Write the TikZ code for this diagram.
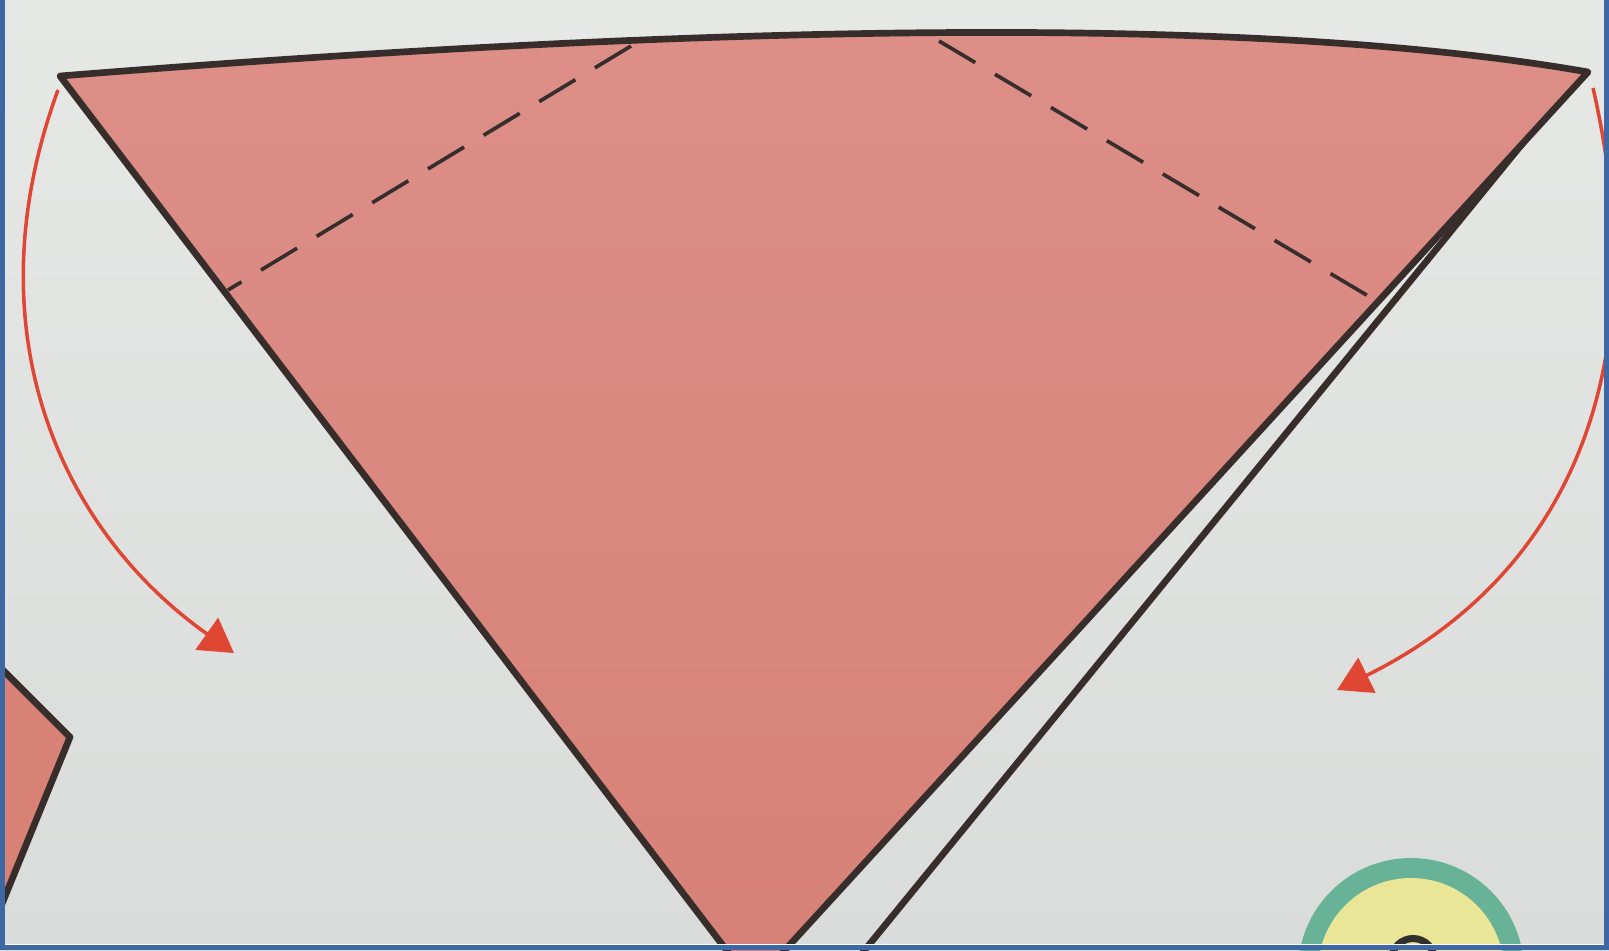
\documentclass[tikz,border=0pt]{standalone}
\usetikzlibrary{arrows.meta}
\definecolor{papertop}{RGB}{230,232,230}
\definecolor{paperbot}{RGB}{217,220,218}
\definecolor{pinktop}{RGB}{220,143,136}
\definecolor{pinkbot}{RGB}{215,129,119}
\definecolor{outline}{RGB}{55,46,44}
\definecolor{arrowred}{RGB}{224,70,52}
\definecolor{frameblue}{RGB}{62,104,164}
\definecolor{ringgreen}{RGB}{104,178,152}
\definecolor{ringyellow}{RGB}{234,230,152}
\definecolor{eyedark}{RGB}{50,48,46}
\begin{document}
\begin{tikzpicture}[x=0.01cm,y=-0.01cm,
  edge/.style={draw=outline,line width=1.9pt,line join=round,line cap=round},
  foldline/.style={draw=outline,line width=1.05pt,dash pattern=on 12pt off 6.5pt},
  turn/.style={draw=arrowred,line width=1.0pt,-{Triangle[length=9.5pt,width=11pt]}}]
\useasboundingbox (0,0) rectangle (1609,950);
\shade[top color=papertop,bottom color=paperbot] (0,0) rectangle (1609,950);
% key points
\coordinate (TL) at (60,76);
\coordinate (TR) at (1588,72);
\coordinate (B) at (753,985);
\coordinate (BS) at (1540,122);
\coordinate (BB) at (824,1000);
\coordinate (D1a) at (631,46);
\coordinate (D1b) at (228,290);
\coordinate (D2a) at (939,41);
\coordinate (D2b) at (1375,300);
\begin{scope}
\clip (0,0) rectangle (1609,950);
% back layer line (starts hidden under the flap)
\draw[edge] (BS) -- (BB);
% main flap
\shade[top color=pinktop,bottom color=pinkbot] (TL) .. controls (560,36) and (1200,4) .. (TR) -- (B) -- cycle;
\draw[edge] (TL) .. controls (560,36) and (1200,4) .. (TR) -- (B) -- cycle;
% fold lines
\draw[foldline] (D1a) -- (D1b);
\draw[foldline] (D2a) -- (D2b);
% bottom-left fragment
\coordinate (F1) at (-5,662);
\coordinate (F2) at (70,737);
\coordinate (F3) at (-5,921);
\fill[pinkbot] (F1) -- (F2) -- (F3) -- cycle;
\draw[edge] (F1) -- (F2) -- (F3);
% bottom-right circle
\coordinate (C) at (1411,971);
\fill[ringgreen] (C) circle[radius=113];
\fill[ringyellow] (C) circle[radius=93];
\draw[eyedark,line width=2pt] (1413,960) circle[radius=21.5];
% arrows
\coordinate (A1s) at (58,90);
\coordinate (A1e) at (234,653);
\draw[turn] (A1s) .. controls (-30,330) and (60,530) .. (A1e);
\coordinate (A2s) at (1593,88);
\coordinate (A2e) at (1337,690);
\draw[turn] (A2s) .. controls (1660,380) and (1560,580) .. (A2e);
\end{scope}
% photo frame
\draw[white,line width=0.8pt] (0,945) -- (1609,945);
\draw[frameblue,line width=1.5pt] (2.5,0) -- (2.5,947.5) -- (1606.5,947.5) -- (1606.5,0);
\end{tikzpicture}
\end{document}
